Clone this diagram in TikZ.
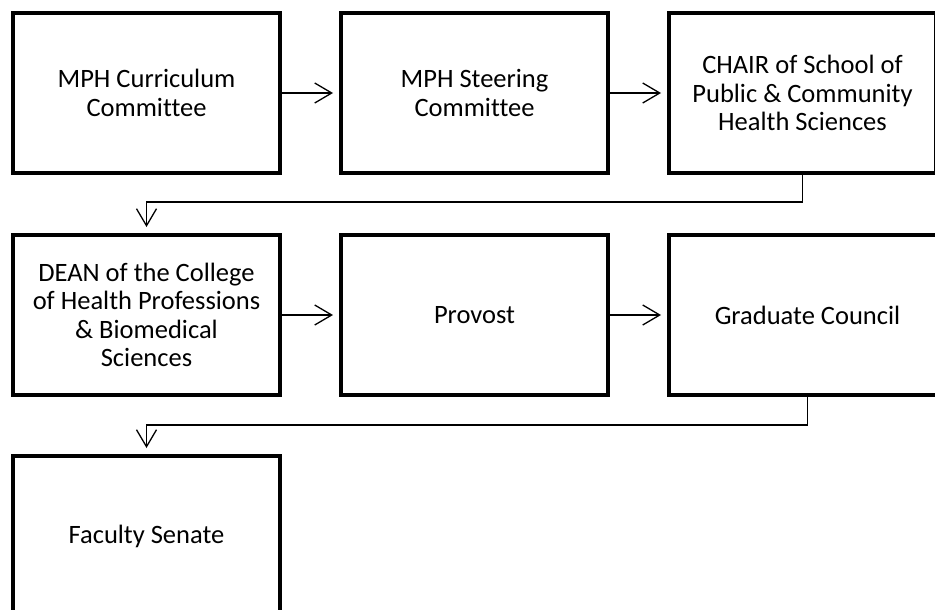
\documentclass[tikz,border=0pt]{standalone}
\usepackage{fontspec}
\setmainfont[Ligatures=NoCommon]{Carlito}
\usetikzlibrary{arrows.meta}
\tikzset{
  unitbox/.style={draw=black, line width=4pt, inner sep=0pt,
    minimum width=267pt, minimum height=160pt, align=center,
    font=\fontsize{26.5}{28.3}\selectfont},
  flow/.style={draw=black, line width=1.3pt,
    -{Straight Barb[length=17pt,width=20pt,line width=1.3pt]}, shorten >=6pt},
}
\begin{document}
\begin{tikzpicture}[x=1pt,y=1pt]
\useasboundingbox (0,0) rectangle (935,-610);
\clip (0,0) rectangle (935,-610);
% first row
\node[unitbox] (curr) at (146.5,-93) {MPH Curriculum\\Committee};
\node[unitbox] (steer) at (474.5,-93) {MPH Steering\\Committee};
\node[unitbox] (chair) at (802.5,-93) {CHAIR of School of\\Public \& Community\\Health Sciences};
% second row
\node[unitbox] (dean) at (146.5,-315) {DEAN of the College\\of Health Professions\\\& Biomedical\\Sciences};
\node[unitbox] (prov) at (474.5,-315) {Provost};
\node[unitbox, minimum width=277pt] (grad) at (807.5,-315) {Graduate Council};
% third row
\node[unitbox] (sen) at (146.5,-536) {Faculty Senate};
% connectors
\draw[flow] (curr.east) -- (steer.west);
\draw[flow] (steer.east) -- (chair.west);
\draw[flow] (chair.south) -- ++(0,-27) -| (dean.north);
\draw[flow] (dean.east) -- (prov.west);
\draw[flow] (prov.east) -- (grad.west);
\draw[flow] (grad.south) -- ++(0,-28) -| (sen.north);
\end{tikzpicture}
\end{document}
